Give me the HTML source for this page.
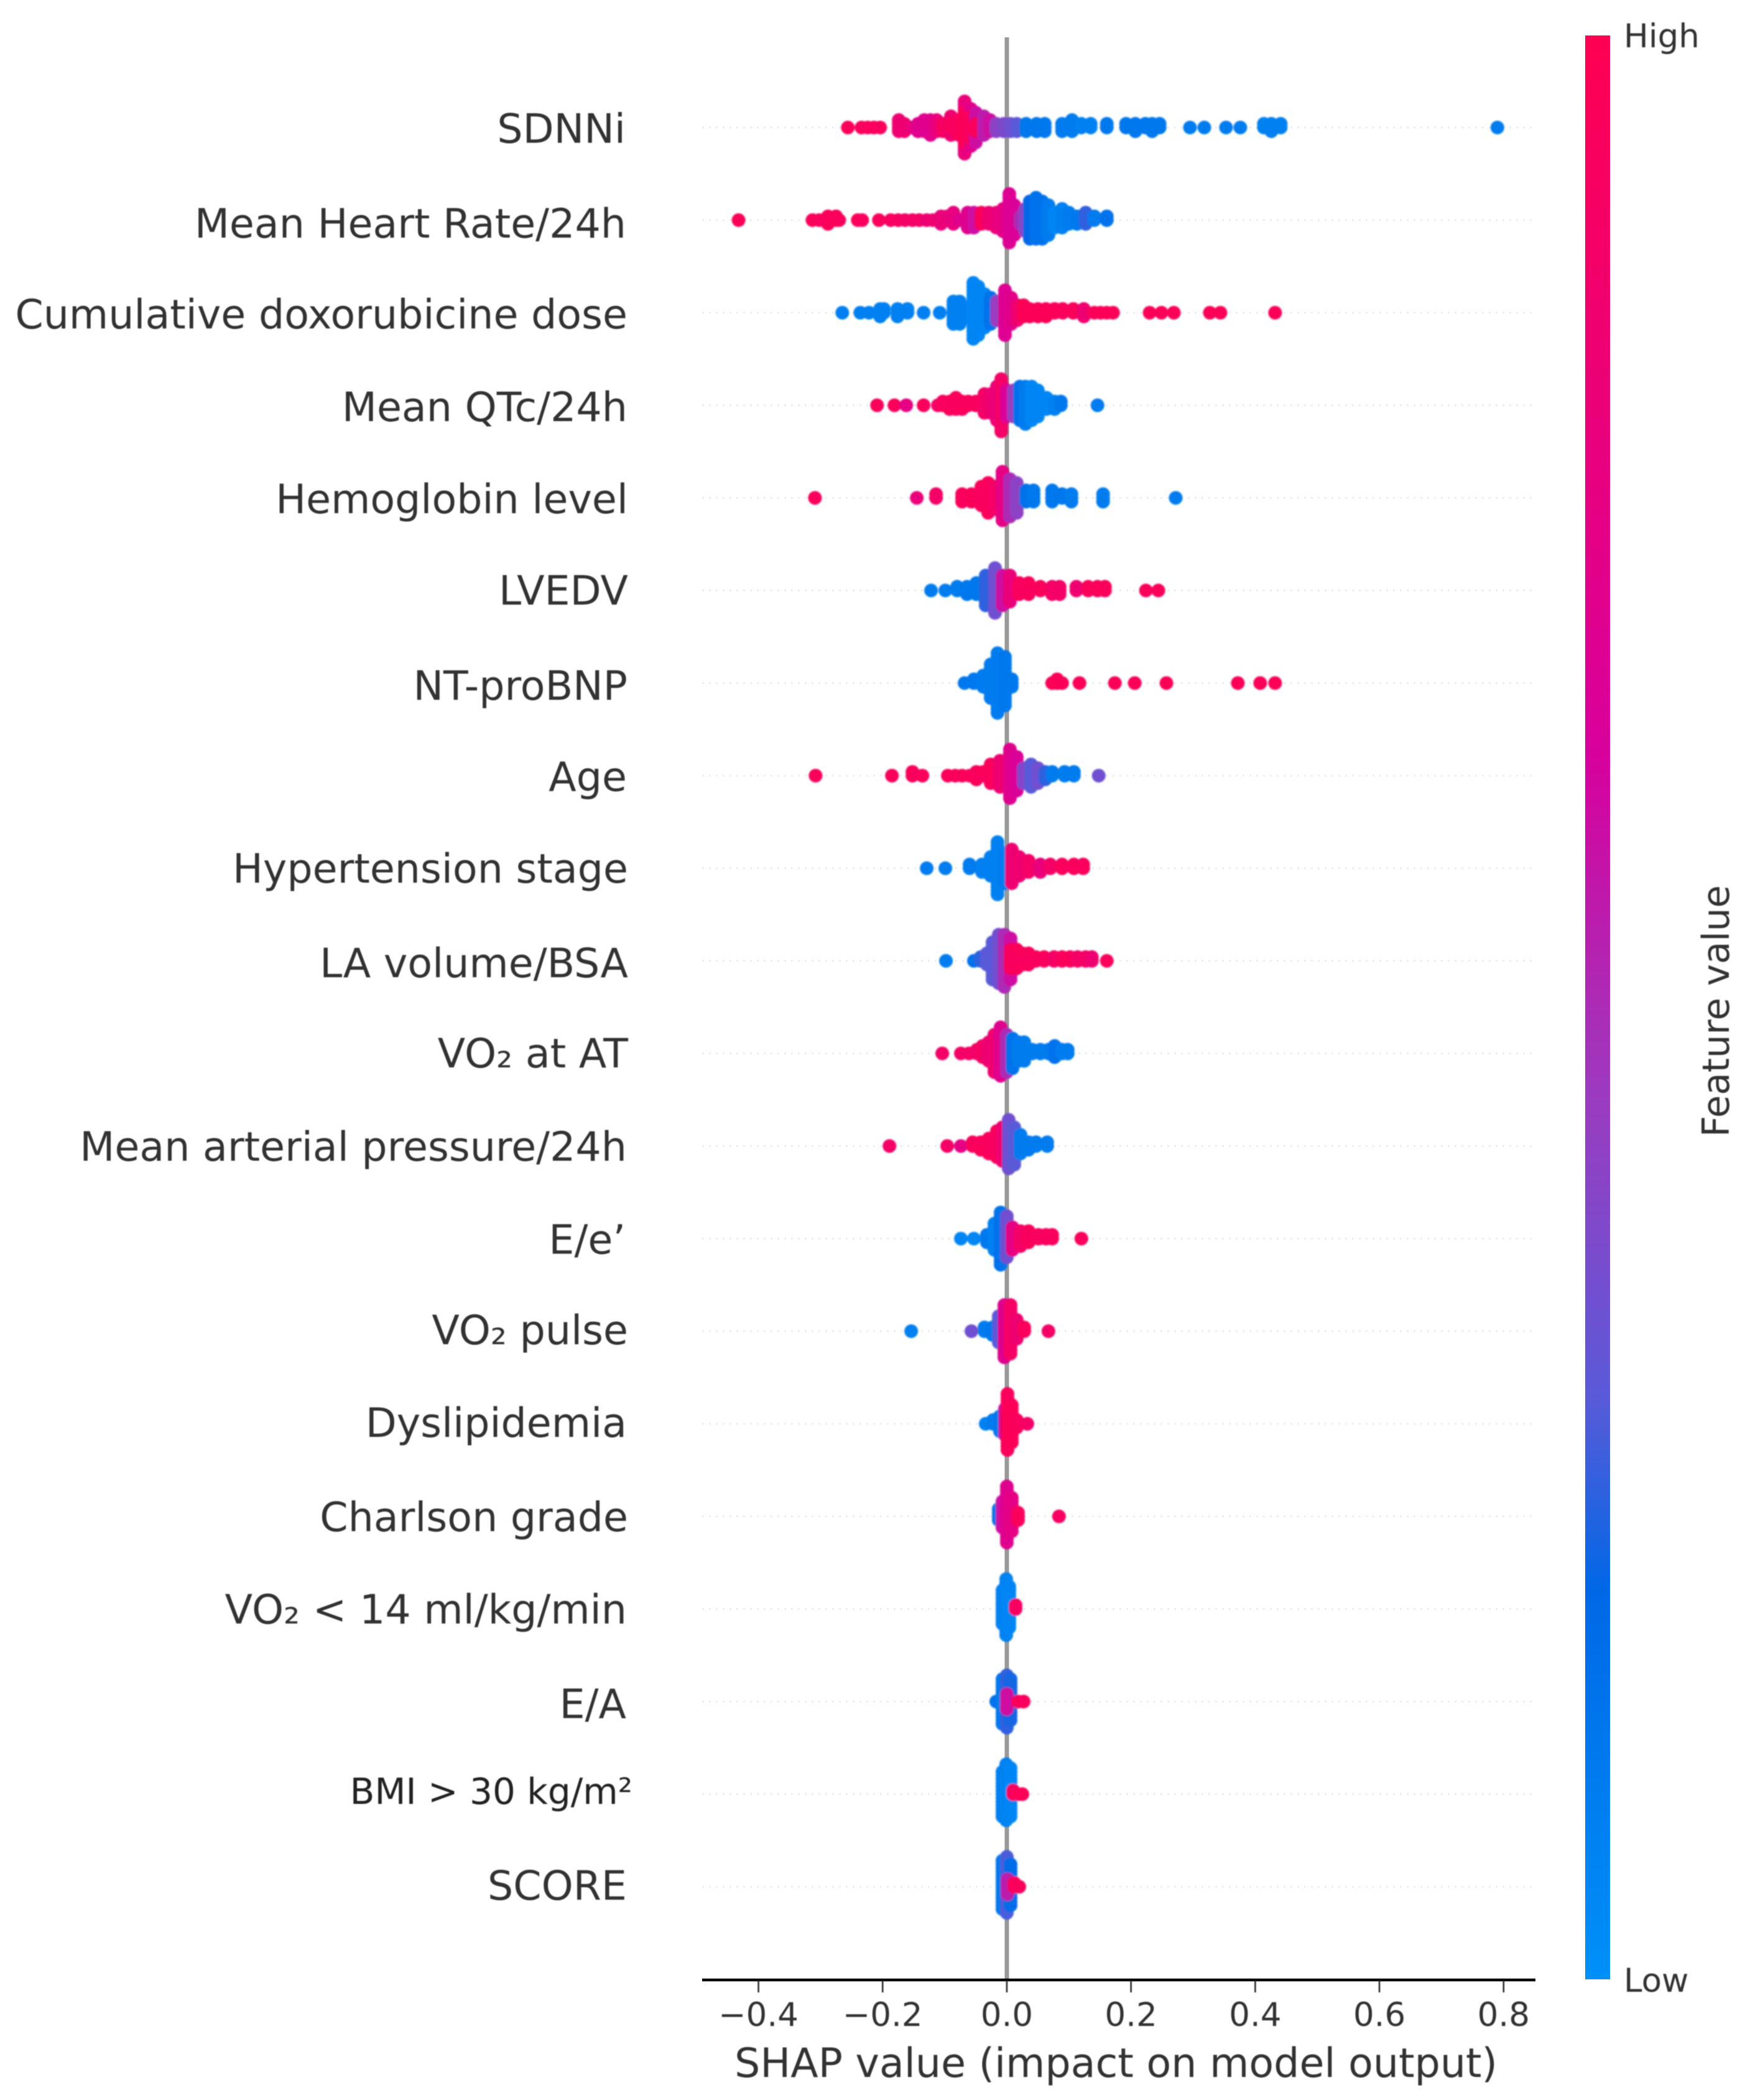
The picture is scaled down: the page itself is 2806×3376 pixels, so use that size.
<!DOCTYPE html>
<html lang="en">
<head>
<meta charset="utf-8">
<title>SHAP summary plot</title>
<style>
html,body{margin:0;padding:0;background:#fff;}
svg{display:block;}
text{font-family:"DejaVu Sans","Liberation Sans",sans-serif;fill:#333;}
.flab{font-size:65px;text-anchor:end;}
</style>
</head>
<body>
<svg id="chart" xmlns="http://www.w3.org/2000/svg" width="2806" height="3376" viewBox="0 0 2806 3376">
  <defs>
    <filter id="soft" x="-5%" y="-5%" width="110%" height="110%"><feGaussianBlur stdDeviation="1.4"/></filter>
    <filter id="softtext" x="-5%" y="-5%" width="110%" height="110%"><feGaussianBlur stdDeviation="0.8"/></filter>
    <linearGradient id="cbar" x1="0" y1="1" x2="0" y2="0">
      <stop offset="0" stop-color="#0090f8"/>
      <stop offset="0.2" stop-color="#0068e6"/>
      <stop offset="0.3" stop-color="#5a5ad8"/>
      <stop offset="0.45" stop-color="#9a3cc0"/>
      <stop offset="0.63" stop-color="#d8009c"/>
      <stop offset="1" stop-color="#ff0052"/>
    </linearGradient>
  </defs>
  <rect width="2806" height="3376" fill="#fff"/>
  <g id="rowlines"></g>
  <line id="zero" y1="60" y2="3183" stroke="#999" stroke-width="7"/>
  <g id="marks" filter="url(#soft)"></g>
  <line x1="1129" x2="2469" y1="3183" y2="3183" stroke="#000" stroke-width="4.5"/>
  <g id="xticks" filter="url(#softtext)"></g>
  <text x="1794.5" y="3339" text-anchor="middle" font-size="65" filter="url(#softtext)">SHAP value (impact on model output)</text>

  <g filter="url(#softtext)">
    <text class="flab" x="1006" y="229.5">SDNNi</text>
    <text class="flab" x="1007" y="382">Mean Heart Rate/24h</text>
    <text class="flab" x="1009" y="528">Cumulative doxorubicine dose</text>
    <text class="flab" x="1009" y="677">Mean QTc/24h</text>
    <text class="flab" x="1010" y="825">Hemoglobin level</text>
    <text class="flab" x="1010" y="972">LVEDV</text>
    <text class="flab" x="1009" y="1125">NT-proBNP</text>
    <text class="flab" x="1008" y="1271.5">Age</text>
    <text class="flab" x="1010" y="1419">Hypertension stage</text>
    <text class="flab" x="1010" y="1571">LA volume/BSA</text>
    <text class="flab" x="1010" y="1716">VO₂ at AT</text>
    <text class="flab" x="1008" y="1866">Mean arterial pressure/24h</text>
    <text class="flab" x="1006" y="2015.5">E/e’</text>
    <text class="flab" x="1010" y="2161">VO₂ pulse</text>
    <text class="flab" x="1008" y="2310">Dyslipidemia</text>
    <text class="flab" x="1010" y="2461.5">Charlson grade</text>
    <text class="flab" x="1008" y="2610">VO₂ &lt; 14 ml/kg/min</text>
    <text class="flab" x="1007" y="2762">E/A</text>
    <text class="flab" x="1017" y="2900" style="font-size:58px;fill:#222">BMI &gt; 30 kg/m²</text>
    <text class="flab" x="1008" y="3054">SCORE</text>
  </g>

  <rect x="2549" y="57" width="40" height="3125" fill="url(#cbar)"/>
  <text x="2611" y="76" font-size="53" filter="url(#softtext)">High</text>
  <text x="2611" y="3202" font-size="53" filter="url(#softtext)">Low</text>
  <text transform="translate(2780 1828) rotate(-90)" font-size="60" textLength="405" lengthAdjust="spacingAndGlyphs" filter="url(#softtext)">Feature value</text>
</svg>

<script>
const tickValues = [-0.4, -0.2, 0, 0.2, 0.4, 0.6, 0.8];
const tickLabels = ["−0.4", "−0.2", "0.0", "0.2", "0.4", "0.6", "0.8"];

const sdnniShap = [-.256,-.234,-.224,-.214,-.204,-.174,-.165,-.155,-.143,-.133,-.123,-.113,-.103,-.09,-.09,-.077,-.068,-.068,-.058,-.058,-.05,-.05,-.037,-.027,-.017,-.005,.006,.016,.031,.048,.061,.089,.105,.12,.135,.161,.192,.207,.223,.234,.246,.295,.318,.353,.376,.414,.426,.441,.79];
const sdnniCount = [1,1,1,1,1,4,3,1,3,4,5,4,3,6,2,5,15,9,11,7,9,3,6,4,3,3,3,3,3,3,3,3,4,2,2,2,2,3,2,3,2,1,1,1,1,2,3,2,1];
const sdnniFeature = [.95,.95,.95,.95,.95,.85,.85,.8,.7,.7,.7,.8,.92,.85,.95,.95,.8,.97,.72,.95,.6,.95,.55,.6,.42,.38,.35,.3,.12,.12,.12,.1,.1,.08,.08,.12,.12,.12,.12,.12,.12,.1,.1,.1,.1,.08,.08,.08,.1];

const heartRateShap = [-.432,-.313,-.302,-.288,-.275,-.27,-.24,-.233,-.206,-.187,-.175,-.164,-.152,-.141,-.129,-.119,-.106,-.096,-.086,-.076,-.063,-.053,-.041,-.029,-.017,-.006,.004,.012,.022,.03,.037,.047,.057,.067,.077,.089,.1,.113,.127,.141,.161];
const heartRateCount = [1,1,1,3,2,1,1,1,1,1,1,1,1,1,1,1,3,2,4,1,5,5,4,4,5,7,14,9,3,7,11,12,11,9,5,6,4,3,4,2,2];
const heartRateFeature = [.97,.95,.95,.95,.95,.95,.95,.95,.95,.92,.92,.9,.9,.9,.85,.85,.8,.8,.78,.7,.7,.6,.95,.85,.8,.75,.68,.65,.5,.4,.2,.15,.15,.1,.05,.08,.1,.12,.25,.1,.15];

const doxorubicinShap = [-.265,-.236,-.222,-.204,-.198,-.176,-.16,-.134,-.108,-.086,-.076,-.066,-.054,-.046,-.036,-.026,-.016,-.003,.007,.017,.027,.037,.05,.063,.077,.09,.107,.124,.141,.151,.161,.171,.23,.249,.269,.327,.344,.432];
const doxorubicinCount = [1,1,1,3,2,3,2,1,1,7,7,3,16,14,10,8,6,13,8,5,4,3,3,3,2,2,2,3,1,1,1,1,1,1,1,1,1,1];
const doxorubicinFeature = [.08,.08,.08,.08,.08,.08,.08,.08,.08,.08,.08,.08,.05,.05,.05,.15,.45,.68,.72,.85,.97,.97,.97,.97,.97,.95,.95,.85,.97,.97,.97,.97,.97,.97,.97,.97,.97,.97];

const qtcShap = [-.209,-.181,-.162,-.134,-.111,-.103,-.092,-.082,-.072,-.062,-.05,-.036,-.026,-.016,-.009,0,.011,.021,.03,.04,.05,.064,.077,.087,.146];
const qtcCount = [1,1,1,1,1,2,3,4,3,2,2,6,6,10,15,8,8,10,11,10,8,4,3,2,1];
const qtcFeature = [.95,.95,.75,.95,.9,.95,.95,.95,.95,.95,.95,.9,.85,.8,.9,.65,.45,.15,.1,.05,.05,.05,.08,.12,.1];

const hemoglobinShap = [-.309,-.145,-.114,-.072,-.057,-.041,-.03,-.019,-.007,.005,.016,.031,.043,.073,.089,.104,.155,.272];
const hemoglobinCount = [1,1,2,3,3,6,9,7,14,11,9,4,4,4,2,3,3,1];
const hemoglobinFeature = [.95,.8,.9,.95,.95,.95,.95,.9,.75,.5,.42,.15,.12,.12,.12,.1,.1,.1];

const lvedvShap = [-.122,-.099,-.08,-.064,-.049,-.034,-.019,-.007,.005,.02,.035,.054,.073,.085,.112,.131,.146,.158,.224,.244];
const lvedvCount = [1,1,2,3,4,9,13,9,8,4,4,2,3,3,2,2,2,2,1,1];
const lvedvFeature = [.1,.1,.1,.12,.12,.25,.35,.6,.8,.95,.95,.95,.9,.9,.85,.95,.95,.95,.95,.95];

const bnpShap = [-.068,-.053,-.038,-.026,-.015,-.003,.008,.073,.081,.089,.117,.174,.206,.257,.372,.408,.432];
const bnpCount = [1,2,4,10,17,14,3,1,2,1,1,1,1,1,1,1,1];
const bnpFeature = [.12,.12,.1,.1,.1,.12,.12,.97,.97,.97,.97,.97,.97,.97,.97,.97,.97];

const ageShap = [-.308,-.185,-.152,-.136,-.095,-.083,-.072,-.06,-.049,-.038,-.026,-.011,.005,.016,.027,.039,.05,.062,.073,.093,.108,.148];
const ageCount = [1,1,2,1,1,1,1,1,3,2,6,8,14,10,5,7,5,3,2,2,2,1];
const ageFeature = [.95,.95,.95,.95,.95,.95,.95,.95,.95,.95,.95,.85,.7,.65,.4,.3,.35,.25,.1,.1,.1,.35];

const hypertensionShap = [-.129,-.099,-.06,-.04,-.026,-.015,-.003,.008,.02,.035,.054,.07,.089,.108,.123];
const hypertensionCount = [1,1,2,3,6,15,9,10,6,4,3,2,2,2,2];
const hypertensionFeature = [.1,.1,.1,.08,.08,.08,.1,.85,.85,.9,.8,.9,.95,.95,.95];

const laVolumeShap = [-.098,-.053,-.042,-.032,-.023,-.013,-.004,.006,.006,.016,.025,.035,.047,.06,.076,.089,.102,.114,.127,.137,.161];
const laVolumeCount = [1,1,2,4,11,14,15,12,6,6,4,4,2,2,2,2,2,2,2,2,1];
const laVolumeFeature = [.1,.15,.25,.3,.3,.35,.5,.6,.95,.95,.95,.95,.95,.95,.9,.95,.95,.9,.9,.85,.95];

const vo2AtShap = [-.104,-.074,-.061,-.048,-.039,-.029,-.02,-.01,0,.009,.019,.028,.041,.054,.067,.077,.089,.098];
const vo2AtCount = [1,1,1,2,4,6,11,14,11,9,6,6,2,2,2,4,2,2];
const vo2AtFeature = [.9,.9,.9,.9,.9,.85,.85,.7,.5,.15,.1,.1,.1,.1,.1,.15,.1,.1];

const mapShap = [-.189,-.096,-.074,-.055,-.042,-.029,-.016,-.007,.003,.012,.022,.035,.047,.065];
const mapCount = [1,1,1,2,3,5,8,10,14,11,6,3,2,2];
const mapFeature = [.9,.9,.75,.95,.95,.95,.95,.85,.35,.3,.1,.1,.1,.1];

const eePrimeShap = [-.074,-.053,-.032,-.02,-.01,0,.009,.022,.035,.051,.063,.073,.12];
const eePrimeCount = [1,1,3,8,15,12,7,5,4,2,2,2,1];
const eePrimeFeature = [.05,.05,.12,.08,.15,.35,.75,.9,.95,.95,.95,.95,.95];

const vo2PulseShap = [-.154,-.057,-.036,-.023,-.013,-.004,.006,.016,.028,.067];
const vo2PulseCount = [1,1,2,3,8,15,14,6,2,1];
const vo2PulseFeature = [.08,.35,.1,.12,.3,.7,.9,.85,.95,.9];

const dyslipidemiaShap = [-.034,-.022,-.011,-.003,.001,.008,.016,.033];
const dyslipidemiaCount = [1,2,5,8,16,11,3,1];
const dyslipidemiaFeature = [.08,.1,.12,.6,.95,.97,.95,.9];

const charlsonShap = [-.013,-.007,0,.008,.018,.084];
const charlsonCount = [4,8,16,10,3,1];
const charlsonFeature = [.15,.6,.7,.75,.95,.92];

const vo2LowShap = [-.007,-.001,.004,.014];
const vo2LowCount = [10,16,12,2];
const vo2LowFeature = [.07,.07,.05,.92];

const eaShap = [-.017,-.007,0,.006,0,.018,.027];
const eaCount = [1,13,15,12,5,1,1];
const eaFeature = [.15,.12,.25,.22,.6,.95,.95];

const bmiShap = [-.007,-.001,.006,.01,.018,.025];
const bmiCount = [13,16,14,2,1,1];
const bmiFeature = [.08,.07,.05,.92,.97,.97];

const scoreShap = [-.007,0,.006,.001,.012,.02];
const scoreCount = [14,16,12,5,2,1];
const scoreFeature = [.12,.28,.18,.55,.95,.95];

const rowShap = [sdnniShap,heartRateShap,doxorubicinShap,qtcShap,hemoglobinShap,lvedvShap,bnpShap,ageShap,hypertensionShap,laVolumeShap,vo2AtShap,mapShap,eePrimeShap,vo2PulseShap,dyslipidemiaShap,charlsonShap,vo2LowShap,eaShap,bmiShap,scoreShap];
const rowCount = [sdnniCount,heartRateCount,doxorubicinCount,qtcCount,hemoglobinCount,lvedvCount,bnpCount,ageCount,hypertensionCount,laVolumeCount,vo2AtCount,mapCount,eePrimeCount,vo2PulseCount,dyslipidemiaCount,charlsonCount,vo2LowCount,eaCount,bmiCount,scoreCount];
const rowFeature = [sdnniFeature,heartRateFeature,doxorubicinFeature,qtcFeature,hemoglobinFeature,lvedvFeature,bnpFeature,ageFeature,hypertensionFeature,laVolumeFeature,vo2AtFeature,mapFeature,eePrimeFeature,vo2PulseFeature,dyslipidemiaFeature,charlsonFeature,vo2LowFeature,eaFeature,bmiFeature,scoreFeature];

const NS = "http://www.w3.org/2000/svg";
function xScale(v) { return 1619 + v * 998.5; }
function yScale(i) { return 205 + i * 148.85; }

const colorRamp = [[0,0,144,248],[.2,0,104,230],[.3,90,90,216],[.45,154,60,192],[.63,216,0,156],[1,255,0,82]];
function colorScale(t) {
  for (let i = 1; i < colorRamp.length; i++) {
    if (t <= colorRamp[i][0]) {
      const a = colorRamp[i-1], b = colorRamp[i], f = (t - a[0]) / (b[0] - a[0]);
      return "rgb(" + [1,2,3].map(k => Math.round(a[k] + (b[k]-a[k]) * f)).join(",") + ")";
    }
  }
  return "rgb(255,0,82)";
}

document.getElementById("zero").setAttribute("x1", xScale(0));
document.getElementById("zero").setAttribute("x2", xScale(0));

const rowlines = document.getElementById("rowlines");
rowShap.forEach(function (_, i) {
  const l = document.createElementNS(NS, "line");
  
  
  l.setAttribute("x1", 1129);
  l.setAttribute("x2", 2469);
  l.setAttribute("y1", yScale(i));
  l.setAttribute("y2", yScale(i));
  l.setAttribute("stroke", "#eeeeee");
  l.setAttribute("stroke-width", "3");
  l.setAttribute("stroke-dasharray", "3 8");
  rowlines.appendChild(l);
});

const spacing = 6;
const marks = document.getElementById("marks");
rowShap.forEach(function (shap, i) {
  shap.forEach(function (v, j) {
    const n = rowCount[i][j];
    for (let k = 0; k < n; k++) {
      const layer = Math.ceil(k / 2) * (k % 2 ? -1 : 1);
      const c = document.createElementNS(NS, "circle");
      
      
      c.setAttribute("cx", xScale(v));
      c.setAttribute("cy", yScale(i) + layer * spacing);
      c.setAttribute("r", 11);
      c.setAttribute("fill", colorScale(rowFeature[i][j]));
      marks.appendChild(c);
    }
  });
});

const xticks = document.getElementById("xticks");
tickValues.forEach(function (v, i) {
  const t = document.createElementNS(NS, "line");
  
  
  t.setAttribute("x1", xScale(v));
  t.setAttribute("x2", xScale(v));
  t.setAttribute("y1", 3183);
  t.setAttribute("y2", 3203);
  t.setAttribute("stroke", "#222");
  t.setAttribute("stroke-width", "2.5");
  xticks.appendChild(t);
  const s = document.createElementNS(NS, "text");
  
  
  s.setAttribute("x", xScale(v));
  s.setAttribute("y", 3257);
  s.setAttribute("text-anchor", "middle");
  s.setAttribute("font-size", "53");
  s.textContent = tickLabels[i];
  xticks.appendChild(s);
});
</script>
</body>
</html>
